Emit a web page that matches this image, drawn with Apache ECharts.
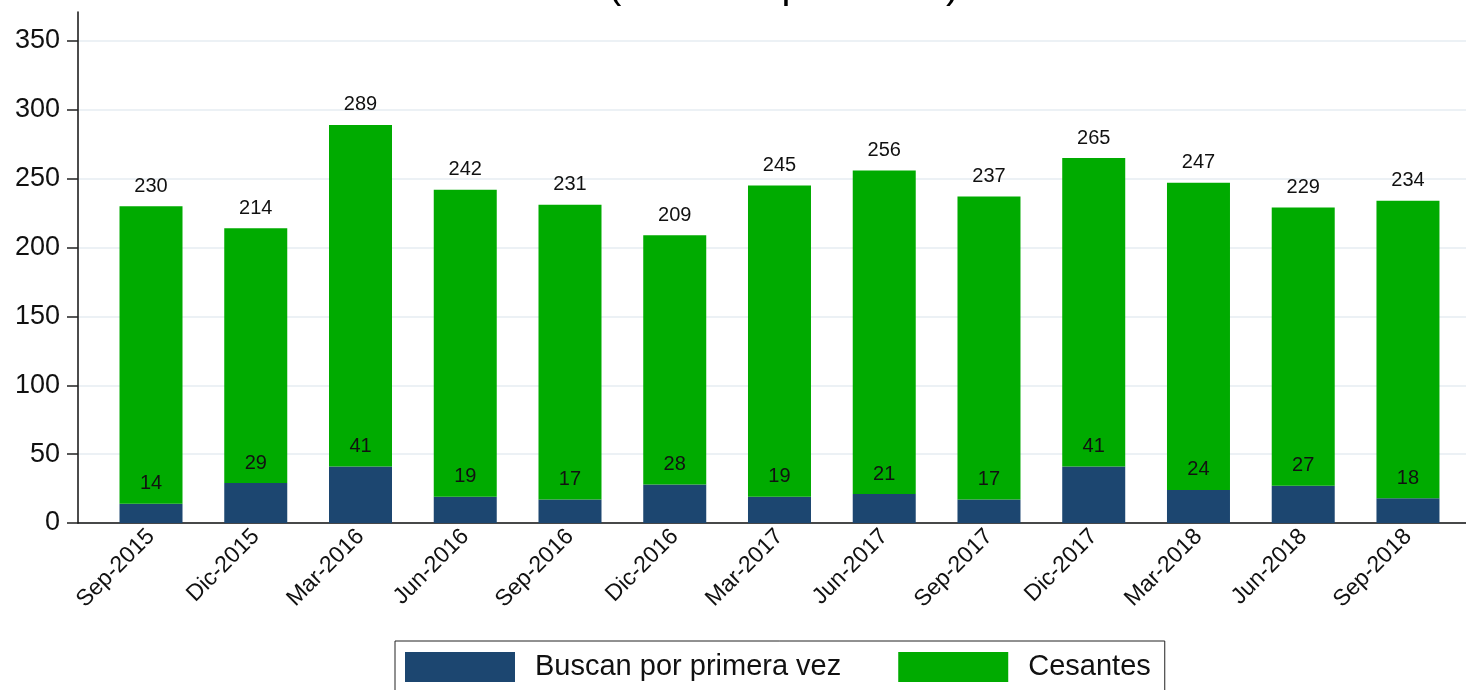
<!DOCTYPE html>
<html>
<head>
<meta charset="utf-8">
<script src="https://cdn.jsdelivr.net/npm/echarts@6/dist/echarts.min.js"></script>
<style>
  html, body { margin: 0; padding: 0; background: #fff; }
  #chart { width: 1466px; height: 690px; }
</style>
</head>
<body>
<div id="chart"></div>
<script>
// quarters shown on the x axis
const categories = ['Sep-2015', 'Dic-2015', 'Mar-2016', 'Jun-2016', 'Sep-2016', 'Dic-2016',
  'Mar-2017', 'Jun-2017', 'Sep-2017', 'Dic-2017', 'Mar-2018', 'Jun-2018', 'Sep-2018']
// total desocupados (label on top of each bar)
const totals = [230, 214, 289, 242, 231, 209, 245, 256, 237, 265, 247, 229, 234]
// buscan por primera vez (bottom segment)
const buscan = [14, 29, 41, 19, 17, 28, 19, 21, 17, 41, 24, 27, 18]
const yTicks = [0, 50, 100, 150, 200, 250, 300, 350]

// cesantes segment = total - buscan
const cesantes = totals.map((t, i) => t - buscan[i])

const chart = echarts.init(document.getElementById('chart'))
const font = 'Liberation Sans, Arial, sans-serif'

const option = {
  animation: false,
  textStyle: { fontFamily: font },
  title: {
    text: '(miles de personas)',
    left: 603,
    top: -38,
    textStyle: { fontSize: 40, fontWeight: 'normal', color: '#000', fontFamily: font }
  },
  grid: { left: 78, right: 0, top: 12, bottom: 167 },
  legend: {
    left: 395,
    top: 641,
    padding: [11, 14, 20, 10],
    itemWidth: 110,
    itemHeight: 30,
    itemGap: 57,
    borderColor: '#222',
    borderWidth: 1,
    borderRadius: 0,
    icon: 'rect',
    textStyle: { fontSize: 29, color: '#111', fontFamily: font, padding: [0, 0, 0, 15] },
    data: ['Buscan por primera vez', 'Cesantes']
  },
  xAxis: {
    type: 'value',
    min: -0.697,
    max: 12.554,
    axisLine: { onZero: false, lineStyle: { color: '#111', width: 1.5 } },
    axisTick: { show: false },
    splitLine: { show: false },
    axisLabel: {
      customValues: categories.map((c, i) => i),
      formatter: v => categories[Math.round(v)],
      rotate: 45,
      fontSize: 23,
      color: '#111',
      margin: 10
    }
  },
  yAxis: {
    type: 'value',
    min: 0,
    max: 371,
    axisLine: { show: true, onZero: false, lineStyle: { color: '#111', width: 1.5 } },
    axisTick: { show: true, length: 11, customValues: yTicks, lineStyle: { color: '#222', width: 1.5 } },
    axisLabel: { customValues: yTicks, fontSize: 27, color: '#111', margin: 18 },
    splitLine: { show: true, lineStyle: { color: '#e6edf2', width: 1.5 } }
  },
  series: [
    {
      name: 'Buscan por primera vez',
      type: 'bar',
      stack: 'total',
      barWidth: 63,
      itemStyle: { color: '#1c4670' },
      label: {
        show: true, position: 'top', distance: 10, fontSize: 20, color: '#111',
        formatter: p => buscan[p.dataIndex]
      },
      encode: { x: 1, y: 0 },
      data: buscan.map((v, i) => [v, i])
    },
    {
      name: 'Cesantes',
      type: 'bar',
      stack: 'total',
      barWidth: 63,
      itemStyle: { color: '#00ab00' },
      label: {
        show: true, position: 'top', distance: 10, fontSize: 20, color: '#111',
        formatter: p => totals[p.dataIndex]
      },
      encode: { x: 1, y: 0 },
      data: cesantes.map((v, i) => [v, i])
    }
  ]
}

chart.setOption(option)
</script>
</body>
</html>
